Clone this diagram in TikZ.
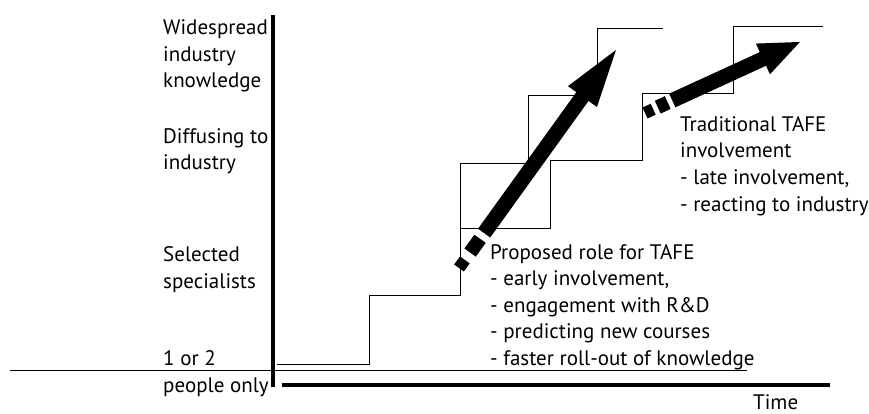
\documentclass[tikz,border=0pt]{standalone}
\usepackage{fontspec}
\setmainfont{PT Sans}
\usetikzlibrary{arrows.meta}
\usetikzlibrary{calc}

\begin{document}
\begin{tikzpicture}[x=1pt,y=-1pt] % one unit per point, y downwards
	\tikzset{stair/.style={black,line width=0.8pt},
		axis/.style={black,line width=4pt},
		lbl/.style={anchor=base west,inner sep=0pt,align=left,font=\fontsize{21}{26.5}\selectfont}}
	
	% Width of the arrow shafts
	\def\shaftw{15pt}
	
	\useasboundingbox (0,0) rectangle (869,414);
	
	% Axes and the old base line
	\draw [axis] (273,15) -- (273,387);
	\draw [axis] (282,385) -- (830,385);
	\draw [black, line width=1pt] (10,370) -- (747,370);
	
	% Early staircase
	\draw [stair] (277,364) -- (369,364) -- (369,295) -- (460,295) -- (460,163) -- (528,163)
		-- (528,95) -- (597,95) -- (597,28) -- (663,28);
	
	% Late staircase
	\draw [stair] (460,228) -- (550,228) -- (550,160) -- (642,160) -- (642,93) -- (733,93)
		-- (733,26) -- (823,26);
	
	% Level labels (placed by the baseline of their last line)
	\node [lbl] (widespread) at (163,88) {Widespread\\industry\\knowledge};
	\node [lbl] (diffusing) at (163,170) {Diffusing to\\industry};
	\node [lbl] (selected) at (163,288) {Selected\\specialists};
	\node [lbl] (fewpeople) at (163,392) {1 or 2\\people only};
	\node [lbl] (time) at (753,409) {Time};
	
	% Early arrow, broken tail
	\coordinate (early0) at (459,268);
	\coordinate (early1) at (621,43);
	\draw [line width=12pt] (early0) -- ($(early0)!10pt!(early1)$);
	\draw [line width=14pt] ($(early0)!19pt!(early1)$) -- ($(early0)!36pt!(early1)$);
	\draw [line width=\shaftw, -{Triangle[length=66pt,width=30pt]}] ($(early0)!43pt!(early1)$) -- (early1);
	
	% Late arrow, broken tail
	\coordinate (late0) at (645,113);
	\coordinate (late1) at (802,41);
	\draw [line width=12pt] (late0) -- ($(late0)!9pt!(late1)$);
	\draw [line width=14pt] ($(late0)!14pt!(late1)$) -- ($(late0)!25pt!(late1)$);
	\draw [line width=\shaftw, -{Triangle[length=43pt,width=30pt]}] ($(late0)!30pt!(late1)$) -- (late1);
	
	% Role texts
	\node [lbl] (proposed) at (490,365) {Proposed role for TAFE\\- early involvement,\\- engagement with R\&D\\- predicting new courses\\- faster roll-out of knowledge};
	\node [lbl] (traditional) at (680,211) {Traditional TAFE\\involvement\\- late involvement,\\- reacting to industry};
	
\end{tikzpicture}
\end{document}
